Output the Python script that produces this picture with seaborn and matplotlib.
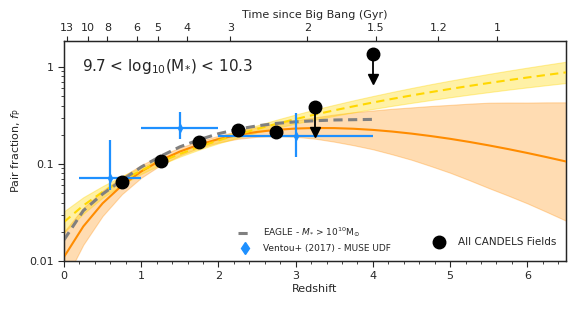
import numpy as np
import matplotlib
matplotlib.use('Agg')
import matplotlib.pyplot as plt
import seaborn as sns
import pandas as pd
from matplotlib.lines import Line2D
from matplotlib.ticker import MultipleLocator, NullFormatter, FixedLocator

# redshift grid for the fitted curves
z_grid = [0.0, 0.25, 0.5, 0.75, 1.0, 1.25, 1.5, 1.75, 2.0, 2.25, 2.5, 2.75, 3.0, 3.25,
          3.5, 3.75, 4.0, 4.25, 4.5, 4.75, 5.0, 5.25, 5.5, 5.75, 6.0, 6.25, 6.5]

# orange fit (power law + exponential) and its band
fit_exp = [0.0110, 0.0227, 0.0393, 0.0600, 0.0837, 0.1090, 0.1343, 0.1585, 0.1803, 0.1990,
           0.2139, 0.2247, 0.2318, 0.2348, 0.2342, 0.2306, 0.2244, 0.2158, 0.2055, 0.1939,
           0.1816, 0.1686, 0.1554, 0.1424, 0.1297, 0.1175, 0.1060]
fit_exp_hi = [0.0200, 0.0352, 0.0530, 0.0738, 0.0972, 0.1223, 0.1472, 0.1718, 0.1954, 0.2181,
              0.2400, 0.2609, 0.2819, 0.3025, 0.3233, 0.3411, 0.3557, 0.3707, 0.3827, 0.3959,
              0.4065, 0.4187, 0.4280, 0.4300, 0.4295, 0.4316, 0.4318]
fit_exp_lo = [0.0060, 0.0147, 0.0291, 0.0488, 0.0721, 0.0971, 0.1225, 0.1462, 0.1663, 0.1816,
              0.1906, 0.1935, 0.1906, 0.1823, 0.1697, 0.1559, 0.1416, 0.1256, 0.1104, 0.0950,
              0.0811, 0.0679, 0.0564, 0.0472, 0.0392, 0.0320, 0.0260]

# yellow fit (power law) and its band
fit_pow = [0.0252, 0.0373, 0.0515, 0.0676, 0.0855, 0.1053, 0.1267, 0.1499, 0.1748, 0.2013,
           0.2294, 0.2591, 0.2903, 0.3231, 0.3573, 0.3929, 0.4301, 0.4689, 0.5088, 0.5504,
           0.5934, 0.6377, 0.6832, 0.7305, 0.7787, 0.8282, 0.8794]
fit_pow_hi = [0.0325, 0.0454, 0.0591, 0.0750, 0.0927, 0.1128, 0.1351, 0.1599, 0.1873, 0.2172,
              0.2498, 0.2854, 0.3235, 0.3642, 0.4074, 0.4532, 0.5018, 0.5534, 0.6075, 0.6648,
              0.7234, 0.7846, 0.8483, 0.9154, 0.9848, 1.0571, 1.1328]
fit_pow_lo = [0.0196, 0.0307, 0.0449, 0.0609, 0.0789, 0.0983, 0.1188, 0.1405, 0.1631, 0.1866,
              0.2107, 0.2352, 0.2605, 0.2866, 0.3134, 0.3406, 0.3686, 0.3973, 0.4261, 0.4557,
              0.4868, 0.5183, 0.5502, 0.5830, 0.6157, 0.6489, 0.6827]

# EAGLE simulation
eagle_z = [0.0, 0.25, 0.5, 0.75, 1.0, 1.25, 1.5, 1.75, 2.0, 2.25, 2.5, 2.75, 3.0, 3.25, 3.5, 3.75, 4.0]
eagle_f = [0.0165, 0.033, 0.049, 0.068, 0.093, 0.120, 0.150, 0.178, 0.205, 0.228, 0.247, 0.262,
           0.272, 0.279, 0.284, 0.286, 0.288]

# Ventou+ (2017) MUSE UDF
ventou_z = [0.6, 1.5, 3.0]
ventou_f = [0.072, 0.235, 0.194]
ventou_zlo = [0.2, 1.0, 2.0]
ventou_zhi = [1.0, 2.0, 4.0]
ventou_flo = [0.054, 0.180, 0.118]
ventou_fhi = [0.177, 0.340, 0.335]

# CANDELS measurements
candels_z = [0.75, 1.25, 1.75, 2.25, 2.75]
candels_f = [0.065, 0.106, 0.170, 0.223, 0.212]
limit_z = [3.25, 4.0]
limit_f = [0.39, 1.37]
limit_end = [0.213, 0.75]

# time since Big Bang labels (Gyr)
age_ticks = [13, 10, 8, 6, 5, 4, 3, 2, 1.5, 1.2, 1]


def age_to_z(t):
    # flat LCDM, H0=70, Om=0.3
    t = np.asarray(t, dtype=float)
    return (np.sinh(t / 11.13) / 1.5275) ** (-2.0 / 3.0) - 1.0


sns.set_style('ticks')
plt.rcParams['font.family'] = ['DejaVu Sans']
plt.rcParams['font.size'] = 8

fig = plt.figure(figsize=(5.82, 3.11), dpi=100)
ax = fig.add_axes([0.110, 0.161, 0.8625, 0.707])

df = pd.DataFrame({'z': z_grid, 'exp': fit_exp, 'pow': fit_pow})

ax.fill_between(z_grid, fit_exp_lo, fit_exp_hi, color='#FF8C00', alpha=0.3, lw=0.8, zorder=1)
ax.fill_between(z_grid, fit_pow_lo, fit_pow_hi, color='#FFD700', alpha=0.35, lw=0.8, zorder=2)
sns.lineplot(data=df, x='z', y='exp', ax=ax, color='#FF8C00', lw=1.5, zorder=3)
sns.lineplot(data=df, x='z', y='pow', ax=ax, color='#FFD700', lw=1.5, ls=(0, (4, 2.5)), zorder=3)
sns.lineplot(x=eagle_z, y=eagle_f, ax=ax, color='grey', lw=2.2, ls=(0, (3, 1.8)), zorder=4)

blue = '#1E90FF'
ax.errorbar(ventou_z, ventou_f,
            xerr=[np.subtract(ventou_z, ventou_zlo), np.subtract(ventou_zhi, ventou_z)],
            yerr=[np.subtract(ventou_f, ventou_flo), np.subtract(ventou_fhi, ventou_f)],
            fmt='d', color=blue, ms=4, elinewidth=1.6, capsize=0, zorder=5)

ax.errorbar(candels_z, candels_f, yerr=[[0, 0, 0, 0, 0.02], [0, 0, 0, 0, 0]],
            fmt='o', color='black', ms=9, elinewidth=1.5, capsize=0, zorder=6)
ax.vlines(limit_z, limit_end, limit_f, color='black', lw=1.3, zorder=6)
ax.plot(limit_z, limit_end, 'v', color='black', ms=7, zorder=6)
ax.plot(limit_z, limit_f, 'o', color='black', ms=9, zorder=6)

ax.set_yscale('log')
ax.set_xlim(0, 6.5)
ax.set_ylim(0.01, 1.85)
ax.set_yticks([0.01, 0.1, 1])
ax.set_yticklabels(['0.01', '0.1', '1'])
ax.yaxis.set_minor_formatter(NullFormatter())
ax.xaxis.set_major_locator(MultipleLocator(1))
ax.xaxis.set_minor_locator(MultipleLocator(0.2))
ax.set_xlabel('Redshift', fontsize=8, labelpad=2)
ax.set_ylabel(r'Pair fraction, $f_{\rm P}$', fontsize=8)
ax.tick_params(axis='both', labelsize=8, direction='out')
ax.tick_params(which='major', length=4)
ax.tick_params(which='minor', length=2.5)
for s in ax.spines.values():
    s.set_linewidth(1.0)
    s.set_visible(True)

ax.text(0.035, 0.885, r'9.7 < log$_{10}$(M$_{*}$) < 10.3', transform=ax.transAxes,
        fontsize=11, va='center', ha='left')

top = ax.twiny()
top.set_xlim(ax.get_xlim())
top.xaxis.set_major_locator(FixedLocator(age_to_z(age_ticks)))
top.set_xticklabels([str(a) for a in age_ticks])
top.xaxis.set_minor_locator(FixedLocator([]))
top.tick_params(axis='x', labelsize=8, length=3.5, pad=2)
top.set_xlabel('Time since Big Bang (Gyr)', fontsize=8, labelpad=4)

h1 = [Line2D([], [], color='grey', lw=2.2, ls=(0, (3, 1.8))),
      Line2D([], [], color=blue, marker='d', ls='none', ms=6)]
leg1 = ax.legend(h1, [r'EAGLE - $M_{*}$ > 10$^{10}$M$_{\odot}$', 'Ventou+ (2017) - MUSE UDF'],
                 loc='lower left', bbox_to_anchor=(0.33, 0.0), frameon=False, fontsize=6.5,
                 handlelength=1.6, handletextpad=1.2, labelspacing=0.5)
ax.add_artist(leg1)
h2 = [Line2D([], [], color='black', marker='o', ls='none', ms=9)]
ax.legend(h2, ['All CANDELS Fields'], loc='lower right', bbox_to_anchor=(1.0, 0.02),
          frameon=False, fontsize=7.5, handletextpad=0.8)

fig.savefig('out.png', dpi=100)
